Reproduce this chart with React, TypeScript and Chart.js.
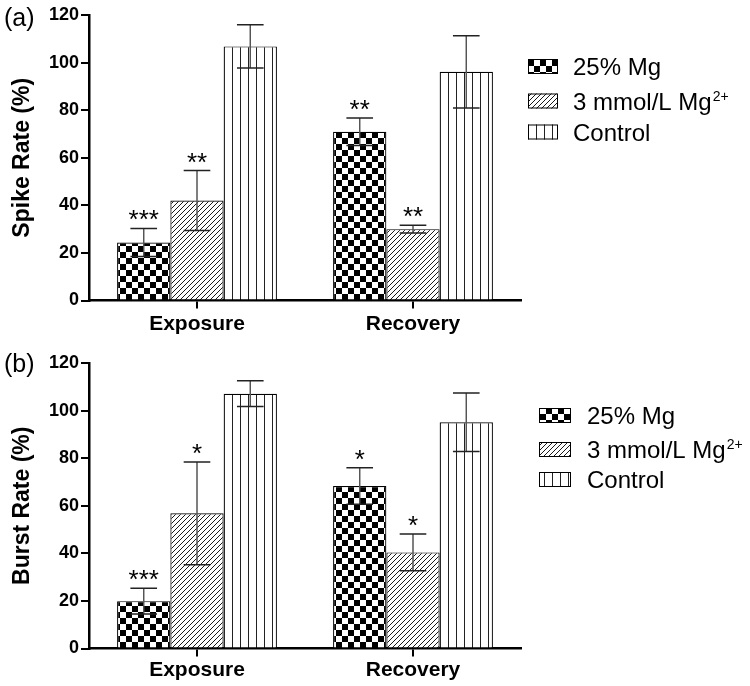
import React, { useEffect, useRef } from 'react';
import { Chart, registerables } from 'chart.js';

Chart.register(...registerables);

const FONT = '"Liberation Sans", Arial, Helvetica, sans-serif';

// ---------- data ----------
const categories = ['Exposure', 'Recovery'];
const seriesLabels = ['25% Mg', '3 mmol/L Mg²⁺', 'Control'];
const yTickValues = [0, 20, 40, 60, 80, 100, 120];

// (a) Spike rate
const spikeMg25 = [24.4, 70.9];
const spikeMg25Err = [5.9, 5.8];
const spikeMg25Sig = ['***', '**'];
const spikeMmol3 = [42.0, 30.0];
const spikeMmol3Err = [12.6, 1.6];
const spikeMmol3Sig = ['**', '**'];
const spikeControl = [106.8, 96.1];
const spikeControlErr = [9.1, 15.2];
const spikeControlSig = ['', ''];

// (b) Burst rate
const burstMg25 = [19.9, 68.3];
const burstMg25Err = [5.4, 7.7];
const burstMg25Sig = ['***', '*'];
const burstMmol3 = [56.8, 40.4];
const burstMmol3Err = [21.6, 7.7];
const burstMmol3Sig = ['*', '*'];
const burstControl = [107.1, 95.1];
const burstControlErr = [5.4, 12.3];
const burstControlSig = ['', ''];

// ---------- patterns ----------
function makeChecker(): CanvasPattern | string {
  const c = document.createElement('canvas');
  c.width = 12; c.height = 12;
  const g = c.getContext('2d');
  if (!g) return '#000';
  g.fillStyle = '#fff'; g.fillRect(0, 0, 12, 12);
  g.fillStyle = '#000'; g.fillRect(0, 0, 6, 6); g.fillRect(6, 6, 6, 6);
  return g.createPattern(c, 'repeat') as CanvasPattern;
}
function makeHatch(): CanvasPattern | string {
  const c = document.createElement('canvas');
  const s = 5;
  c.width = s; c.height = s;
  const g = c.getContext('2d');
  if (!g) return '#888';
  g.fillStyle = '#fff'; g.fillRect(0, 0, s, s);
  g.strokeStyle = '#1a1a1a'; g.lineWidth = 1;
  g.beginPath();
  g.moveTo(0, s); g.lineTo(s, 0);
  g.moveTo(-1, 1); g.lineTo(1, -1);
  g.moveTo(s - 1, s + 1); g.lineTo(s + 1, s - 1);
  g.stroke();
  return g.createPattern(c, 'repeat') as CanvasPattern;
}
function makeVertical(): CanvasPattern | string {
  const c = document.createElement('canvas');
  c.width = 8; c.height = 8;
  const g = c.getContext('2d');
  if (!g) return '#fff';
  g.fillStyle = '#fff'; g.fillRect(0, 0, 8, 8);
  g.fillStyle = '#222'; g.fillRect(0, 0, 1, 8);
  return g.createPattern(c, 'repeat') as CanvasPattern;
}

// ---------- plugins ----------
const errorBarPlugin = {
  id: 'errorBars',
  afterDatasetsDraw(chart: any) {
    const ctx = chart.ctx as CanvasRenderingContext2D;
    const yScale = chart.scales.y;
    chart.data.datasets.forEach((ds: any, di: number) => {
      const meta = chart.getDatasetMeta(di);
      meta.data.forEach((bar: any, i: number) => {
        const v = ds.data[i];
        const e = ds.errors[i];
        const x = bar.x;
        const yTop = yScale.getPixelForValue(v + e);
        const yBot = yScale.getPixelForValue(v - e);
        const half = bar.width / 4;
        ctx.save();
        ctx.strokeStyle = '#555';
        ctx.lineWidth = 1.5;
        ctx.beginPath();
        ctx.moveTo(x, yTop); ctx.lineTo(x, yBot);
        ctx.stroke();
        ctx.strokeStyle = '#222';
        ctx.beginPath();
        ctx.moveTo(x - half, yTop); ctx.lineTo(x + half, yTop);
        ctx.moveTo(x - half, yBot); ctx.lineTo(x + half, yBot);
        ctx.stroke();
        const s = ds.sig[i];
        if (s) {
          ctx.font = `26px ${FONT}`;
          ctx.fillStyle = '#000';
          ctx.textAlign = 'center';
          ctx.textBaseline = 'alphabetic';
          const m = ctx.measureText(s);
          const cy = yTop - 13;
          const base = cy + (m.actualBoundingBoxAscent - m.actualBoundingBoxDescent) / 2;
          ctx.fillText(s, x, base);
        }
        ctx.restore();
      });
    });
  },
};

const patternLegendPlugin = {
  id: 'patternLegend',
  afterDraw(chart: any, _args: any, opts: any) {
    const ctx = chart.ctx as CanvasRenderingContext2D;
    ctx.save();
    chart.data.datasets.forEach((ds: any, i: number) => {
      const cy = opts.rows[i];
      const bx = opts.boxX;
      const by = cy - opts.boxH / 2;
      ctx.fillStyle = ds.backgroundColor;
      ctx.fillRect(bx, by, opts.boxW, opts.boxH);
      ctx.strokeStyle = '#000';
      ctx.lineWidth = 1;
      ctx.strokeRect(bx + 0.5, by + 0.5, opts.boxW - 1, opts.boxH - 1);

      let label: string = ds.label;
      let sup = '';
      const m = label.match(/[²⁺]+$/);
      if (m) {
        sup = m[0].replace('²', '2').replace('⁺', '+');
        label = label.slice(0, label.length - m[0].length);
      }
      ctx.font = `${opts.fontSize}px ${FONT}`;
      ctx.fillStyle = '#000';
      ctx.textAlign = 'left';
      ctx.textBaseline = 'alphabetic';
      const cap = ctx.measureText('H').actualBoundingBoxAscent;
      const base = cy + cap / 2;
      ctx.fillText(label, opts.textX, base);
      if (sup) {
        const w = ctx.measureText(label).width;
        ctx.font = `${Math.round(opts.fontSize * 0.58)}px ${FONT}`;
        ctx.fillText(sup, opts.textX + w + 1, base - opts.fontSize * 0.36);
      }
    });
    // panel letter
    ctx.font = `25px ${FONT}`;
    ctx.fillStyle = '#000';
    ctx.textAlign = 'left';
    ctx.textBaseline = 'alphabetic';
    const pm = ctx.measureText(opts.panel);
    const pbase = opts.panelY + (pm.actualBoundingBoxAscent - pm.actualBoundingBoxDescent) / 2;
    ctx.fillText(opts.panel, opts.panelX, pbase);
    ctx.restore();
  },
};

function buildConfig(p: {
  values: number[][];
  errors: number[][];
  sigs: string[][];
  yTitle: string;
  padTop: number;
  xHeight: number;
  xPad: number;
  legend: any;
  patterns: any[];
}) {
  return {
    type: 'bar' as const,
    data: {
      labels: categories,
      datasets: seriesLabels.map((lab, i) => ({
        label: lab,
        data: p.values[i],
        errors: p.errors[i],
        sig: p.sigs[i],
        backgroundColor: p.patterns[i],
        borderColor: '#000',
        borderWidth: 1.2,
        categoryPercentage: 0.74,
        barPercentage: 1.0,
      })),
    },
    options: {
      responsive: false,
      maintainAspectRatio: false,
      animation: false as const,
      layout: { padding: { left: 0, right: 229, top: p.padTop, bottom: 0 } },
      plugins: {
        legend: { display: false },
        tooltip: { enabled: false },
        patternLegend: p.legend,
      },
      scales: {
        x: {
          type: 'category' as const,
          offset: true,
          grid: {
            display: true,
            offset: false,
            drawOnChartArea: false,
            drawTicks: true,
            tickLength: 8,
            color: '#000',
            lineWidth: 2,
          },
          border: { display: true, color: '#000', width: 2.5 },
          ticks: {
            color: '#000',
            padding: p.xPad,
            font: { family: FONT, size: 21, weight: 'bold' as const },
          },
          afterFit: (s: any) => { s.height = p.xHeight; },
        },
        y: {
          min: 0,
          max: 120,
          afterBuildTicks: (s: any) => { s.ticks = yTickValues.map((v) => ({ value: v })); },
          grid: {
            display: true,
            drawOnChartArea: false,
            drawTicks: true,
            tickLength: 8,
            color: '#000',
            lineWidth: 2,
          },
          border: { display: true, color: '#000', width: 2.5 },
          ticks: {
            color: '#000',
            padding: 2,
            font: { family: FONT, size: 18, weight: 'bold' as const },
          },
          title: {
            display: true,
            text: p.yTitle,
            color: '#000',
            font: { family: FONT, size: 23, weight: 'bold' as const },
            padding: { top: 9, bottom: 0 },
          },
          afterFit: (s: any) => { s.width = 89; },
        },
      },
    },
    plugins: [errorBarPlugin, patternLegendPlugin],
  };
}

export default function App() {
  const topRef = useRef<HTMLCanvasElement>(null);
  const botRef = useRef<HTMLCanvasElement>(null);

  useEffect(() => {
    Chart.defaults.font.family = FONT;
    const patterns = [makeChecker(), makeHatch(), makeVertical()];
    const c1 = new Chart(topRef.current as HTMLCanvasElement, buildConfig({
      values: [spikeMg25, spikeMmol3, spikeControl],
      errors: [spikeMg25Err, spikeMmol3Err, spikeControlErr],
      sigs: [spikeMg25Sig, spikeMmol3Sig, spikeControlSig],
      yTitle: 'Spike Rate (%)',
      padTop: 15,
      xHeight: 42.5,
      xPad: 3,
      patterns,
      legend: { boxX: 528, boxW: 30, boxH: 15, textX: 573, rows: [66.5, 101, 132], fontSize: 24, panel: '(a)', panelX: 4, panelY: 19 },
    }) as any);
    const c2 = new Chart(botRef.current as HTMLCanvasElement, buildConfig({
      values: [burstMg25, burstMmol3, burstControl],
      errors: [burstMg25Err, burstMmol3Err, burstControlErr],
      sigs: [burstMg25Sig, burstMmol3Sig, burstControlSig],
      yTitle: 'Burst Rate (%)',
      padTop: 33,
      xHeight: 37.5,
      xPad: 1,
      patterns,
      legend: { boxX: 539, boxW: 32, boxH: 15, textX: 587, rows: [85.5, 119.5, 149.5], fontSize: 24, panel: '(b)', panelX: 4, panelY: 35 },
    }) as any);
    return () => { c1.destroy(); c2.destroy(); };
  }, []);

  return (
    <div style={{ position: 'absolute', left: 0, top: 0, width: 750, height: 686, background: '#fff' }}>
      <canvas ref={topRef} width={750} height={343} style={{ position: 'absolute', left: 0, top: 0, width: 750, height: 343 }} />
      <canvas ref={botRef} width={750} height={356} style={{ position: 'absolute', left: 0, top: 330, width: 750, height: 356 }} />
    </div>
  );
}
